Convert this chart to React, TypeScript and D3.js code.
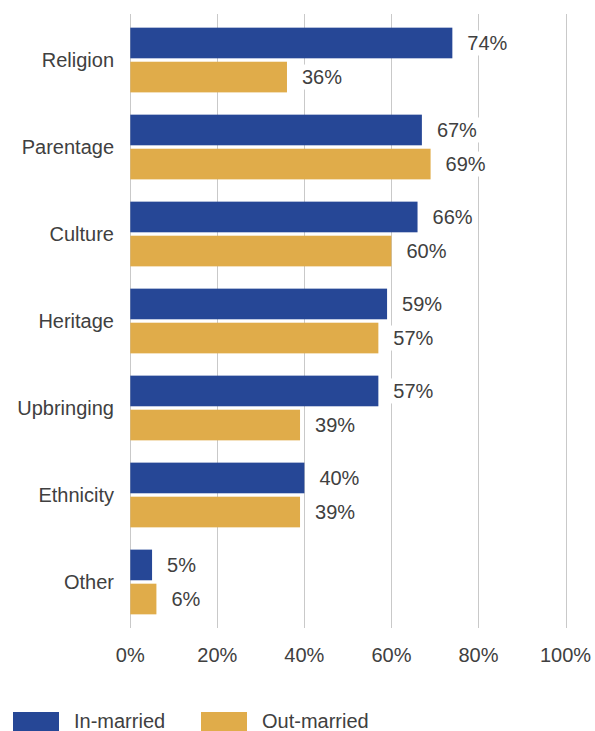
import { useRef, useEffect } from 'react'
import * as d3 from 'd3'

const WIDTH = 595
const HEIGHT = 731

const categories = ['Religion', 'Parentage', 'Culture', 'Heritage', 'Upbringing', 'Ethnicity', 'Other']
const inMarried = [74, 67, 66, 59, 57, 40, 5]
const outMarried = [36, 69, 60, 57, 39, 39, 6]
const seriesNames = ['In-married', 'Out-married']
const xTicks = [0, 20, 40, 60, 80, 100]

const BLUE = '#264796'
const GOLD = '#e0ac4a'
const TEXT = '#404040'
const GRID = '#c9c9c9'
const FONT = '"Liberation Sans", Arial, sans-serif'

export default function App() {
  const svgRef = useRef<SVGSVGElement>(null)

  useEffect(() => {
    document.body.style.margin = '0'
    if (!svgRef.current) return

    const el = d3.select(svgRef.current)
    el.selectAll('*').remove()

    const x = d3.scaleLinear().domain([0, 100]).range([130.3, 565.5])
    const y = d3.scaleBand().domain(categories).range([14, 628]).paddingInner(0.256).paddingOuter(0.157)
    const sub = d3.scaleBand().domain(seriesNames).range([0, y.bandwidth()]).paddingInner(0.1)

    // Gridlines
    el.append('g')
      .selectAll('line')
      .data(xTicks)
      .join('line')
      .attr('x1', (d) => Math.round(x(d)) + 0.5)
      .attr('x2', (d) => Math.round(x(d)) + 0.5)
      .attr('y1', 14)
      .attr('y2', 628)
      .attr('stroke', GRID)
      .attr('stroke-width', 1)

    const rows = categories.map((c, i) => ({ cat: c, vals: [inMarried[i], outMarried[i]] }))
    const colors = [BLUE, GOLD]

    // Bars
    const groups = el.append('g')
      .selectAll('g')
      .data(rows)
      .join('g')
      .attr('transform', (d) => `translate(0,${y(d.cat)})`)

    groups.selectAll('rect')
      .data((d) => d.vals.map((v, j) => ({ v, s: seriesNames[j], color: colors[j] })))
      .join('rect')
      .attr('x', x(0))
      .attr('y', (d) => sub(d.s) ?? 0)
      .attr('width', (d) => x(d.v) - x(0))
      .attr('height', sub.bandwidth())
      .attr('fill', (d) => d.color)

    // Value labels with white boxes (hide gridlines behind them)
    groups.each(function (d) {
      const g = d3.select(this)
      d.vals.forEach((v, j) => {
        const cy = (sub(seriesNames[j]) ?? 0) + sub.bandwidth() / 2
        const lbl = g.append('g')
        const txt = lbl.append('text')
          .attr('x', x(v) + 15)
          .attr('y', cy)
          .attr('dy', '0.36em')
          .attr('font-family', FONT)
          .attr('font-size', 20)
          .attr('fill', TEXT)
          .text(`${v}%`)
        const bb = (txt.node() as SVGTextElement).getBBox()
        lbl.insert('rect', 'text')
          .attr('x', bb.x - 4)
          .attr('y', cy - 12.5)
          .attr('width', bb.width + 8)
          .attr('height', 25)
          .attr('fill', '#fff')
      })
    })

    // Category labels
    el.append('g')
      .selectAll('text')
      .data(categories)
      .join('text')
      .attr('x', 114)
      .attr('y', (d) => (y(d) ?? 0) + y.bandwidth() / 2)
      .attr('dy', '0.36em')
      .attr('text-anchor', 'end')
      .attr('font-family', FONT)
      .attr('font-size', 20)
      .attr('fill', TEXT)
      .text((d) => d)

    // X axis labels
    el.append('g')
      .selectAll('text')
      .data(xTicks)
      .join('text')
      .attr('x', (d) => x(d))
      .attr('y', 655)
      .attr('dy', '0.36em')
      .attr('text-anchor', 'middle')
      .attr('font-family', FONT)
      .attr('font-size', 20)
      .attr('fill', TEXT)
      .text((d) => `${d}%`)

    // Legend
    const legendX = [13, 201]
    const legend = el.append('g')
      .selectAll('g')
      .data(seriesNames)
      .join('g')
      .attr('transform', (_, i) => `translate(${legendX[i]},712)`)
    legend.append('rect')
      .attr('width', 46)
      .attr('height', 19)
      .attr('fill', (_, i) => colors[i])
    legend.append('text')
      .attr('x', 61)
      .attr('y', 15.5)
      .attr('font-family', FONT)
      .attr('font-size', 20)
      .attr('fill', TEXT)
      .text((d) => d)
  }, [])

  return <svg ref={svgRef} width={WIDTH} height={HEIGHT} style={{ display: 'block' }} />
}
